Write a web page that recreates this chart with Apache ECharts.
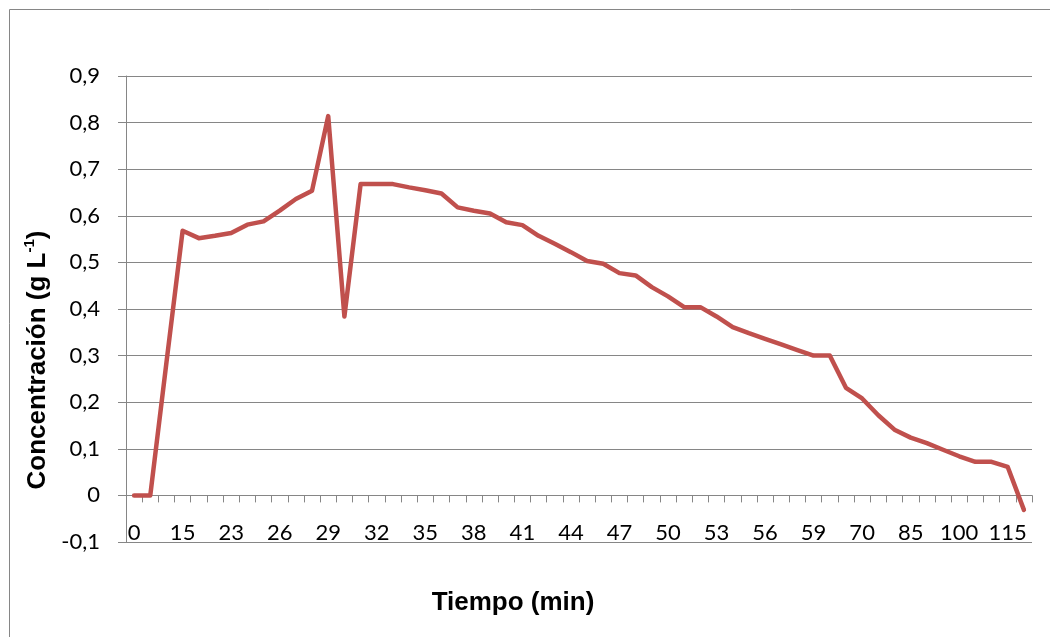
<!DOCTYPE html>
<html>
<head>
<meta charset="utf-8">
<script src="https://cdn.jsdelivr.net/npm/echarts@6/dist/echarts.min.js"></script>
<style>
html,body{margin:0;padding:0;background:#fff;}
#chart{width:1050px;height:637px;}
</style>
</head>
<body>
<div id="chart"></div>
<script>
var categories = ['0','5','10','15','18','20','23','24','25','26','27','28','29','30','31','32','33','34','35','36','37','38','39','40','41','42','43','44','45','46','47','48','49','50','51','52','53','54','55','56','57','58','59','62','65','70','75','80','85','90','95','100','105','110','115','120'];
var concentration = [0,0,0.285,0.568,0.552,0.557,0.563,0.581,0.588,0.611,0.636,0.654,0.814,0.384,0.668,0.668,0.668,0.661,0.655,0.648,0.618,0.611,0.605,0.586,0.580,0.557,0.540,0.522,0.503,0.497,0.477,0.472,0.447,0.427,0.404,0.404,0.384,0.361,0.348,0.336,0.324,0.312,0.300,0.300,0.231,0.208,0.172,0.141,0.124,0.112,0.098,0.084,0.072,0.072,0.061,-0.031];
var yMin = -0.1, yMax = 0.9, yStep = 0.1;
var xTitle = 'Tiempo (min)';

var chart = echarts.init(document.getElementById('chart'));
var axisColor = '#868686';
var labelFont = 'Lato, "Open Sans", sans-serif';
chart.setOption({
  animation: false,
  backgroundColor: '#fff',
  grid: {left: 126, right: 18, top: 76, bottom: 95, containLabel: false},
  graphic: [
    {type: 'rect', left: 7, top: 7, shape: {x: 0, y: 0, width: 1100, height: 700}, style: {fill: 'none', stroke: axisColor, lineWidth: 1}, silent: true, z: -10},
    {type: 'text', x: 513, y: 603, style: {text: xTitle, font: 'bold 26px "Liberation Sans", Arial, sans-serif', fill: '#000', textAlign: 'center', textVerticalAlign: 'middle'}}
  ],
  xAxis: {
    type: 'category',
    data: categories,
    boundaryGap: true,
    axisLine: {onZero: true, lineStyle: {color: axisColor, width: 1}},
    axisTick: {show: true, interval: 0, length: 7, lineStyle: {color: axisColor}},
    axisLabel: {interval: 2, margin: -20, color: '#000', fontSize: 22, fontFamily: labelFont},
    splitLine: {show: false}
  },
  yAxis: {
    type: 'value',
    min: yMin, max: yMax, interval: yStep,
    axisLine: {show: true, lineStyle: {color: axisColor, width: 1}},
    axisTick: {show: true, length: 8, lineStyle: {color: axisColor}},
    splitLine: {show: true, lineStyle: {color: axisColor, width: 1}},
    axisLabel: {
      margin: 26, color: '#000', fontSize: 22, fontFamily: labelFont,
      formatter: function (v) {
        var r = Math.round(v * 10) / 10;
        if (r === 0) return '0';
        return r.toFixed(1).replace('.', ',');
      }
    },
    name: '{b|Concentración (g L}{s|-1}{b|)}',
    nameLocation: 'middle',
    nameRotate: 90,
    nameGap: 70,
    nameTextStyle: {
      padding: [0, 102, 0, 0],
      rich: {
        b: {fontSize: 26, fontWeight: 'bold', fontFamily: '"Liberation Sans", Arial, sans-serif', color: '#000', lineHeight: 30},
        s: {fontSize: 15, fontWeight: 'bold', fontFamily: '"Liberation Sans", Arial, sans-serif', color: '#000', verticalAlign: 'top', lineHeight: 30, padding: [0, 0, 12, 0]}
      }
    }
  },
  series: [{
    type: 'line',
    data: concentration,
    showSymbol: false,
    symbol: 'none',
    lineStyle: {color: '#C0504D', width: 4.5, cap: 'round', join: 'round'},
    itemStyle: {color: '#C0504D'}
  }]
});
</script>
</body>
</html>
